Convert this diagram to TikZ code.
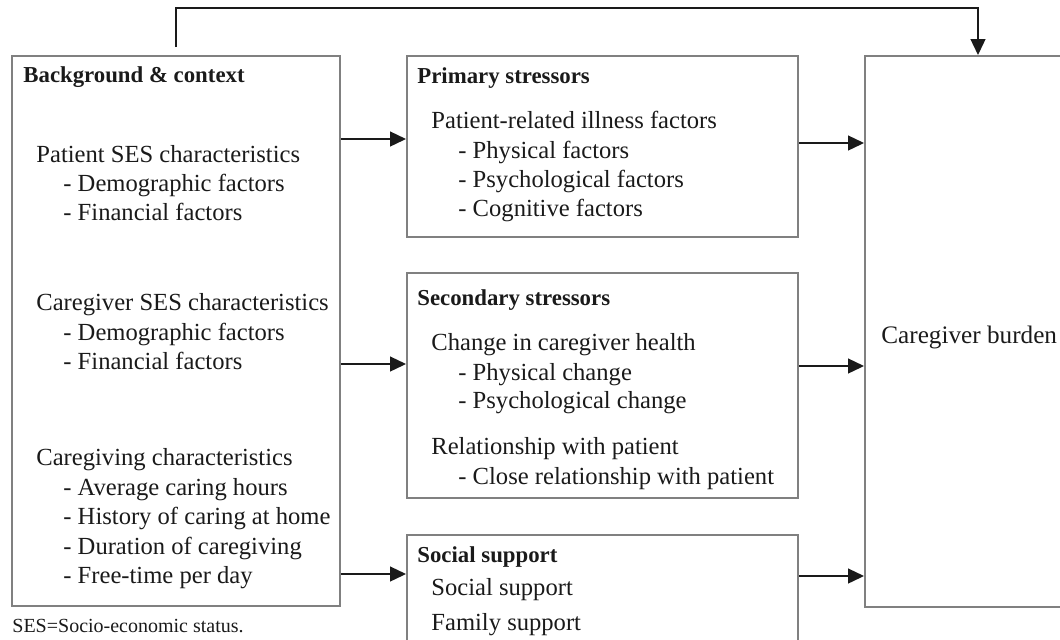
\documentclass[tikz,border=0pt]{standalone}
\usepackage{fontspec}
\setmainfont{Liberation Serif}
\usetikzlibrary{arrows.meta}
\definecolor{cbFrame}{HTML}{808080}
\definecolor{cbInk}{HTML}{1A1A1A}
\tikzset{
  cb diagram/.style={x=0.5pt, y=-0.5pt, text=cbInk,
    font=\fontsize{12.3}{14.5}\selectfont},
  cb box/.style={draw=cbFrame, line width=1pt, anchor=north west,
    inner sep=0pt},
  cb head/.style={anchor=base west, inner sep=0pt,
    font=\fontsize{11.4}{14.5}\selectfont\bfseries},
  cb line/.style={anchor=base west, inner sep=0pt},
  cb note/.style={anchor=base west, inner sep=0pt,
    font=\fontsize{10}{12}\selectfont},
  cb arrow/.style={-{Triangle[length=8pt,width=7.5pt]}, draw=cbInk,
    line width=0.65pt}
}

\begin{document}
\begin{tikzpicture}[cb diagram]
\clip (0,0) rectangle (1060,639);
% boxes
\node[cb box, minimum width=164pt, minimum height=275pt] (bg) at (11,55) {};
\node[cb box, minimum width=195.5pt, minimum height=90.5pt] (prim) at (406,55) {};
\node[cb box, minimum width=195.5pt, minimum height=112.5pt] (sec) at (406,272) {};
\node[cb box, minimum width=195.5pt, minimum height=63pt] (soc) at (406,534) {};
\node[cb box, minimum width=108pt, minimum height=275.5pt] (burden) at (864,55) {};
% background & context
\node[cb head] (bgHead) at (23,82) {Background \& context};
\foreach \y/\x/\t [count=\i] in {162/36/Patient SES characteristics,
    191/63/- Demographic factors, 220/63/- Financial factors,
    310/36/Caregiver SES characteristics, 340/63/- Demographic factors,
    369/63/- Financial factors, 465/36/Caregiving characteristics,
    495/63/- Average caring hours, 524/63/- History of caring at home,
    554/63/- Duration of caregiving, 583/63/- Free-time per day}
  \node[cb line] (bg\i) at (\x,\y) {\t};
\node[cb note] (sesNote) at (12,632) {SES=Socio-economic status.};
% stressors and support
\node[cb head] (primHead) at (417,83) {Primary stressors};
\foreach \y/\x/\t [count=\i] in {128/431/Patient-related illness factors,
    158/458/- Physical factors, 187/458/- Psychological factors,
    216/458/- Cognitive factors}
  \node[cb line] (prim\i) at (\x,\y) {\t};
\node[cb head] (secHead) at (417,305) {Secondary stressors};
\foreach \y/\x/\t [count=\i] in {350/431/Change in caregiver health,
    380/458/- Physical change, 408/458/- Psychological change,
    454/431/Relationship with patient,
    484/458/- Close relationship with patient}
  \node[cb line] (sec\i) at (\x,\y) {\t};
\node[cb head] (socHead) at (417,562) {Social support};
\node[cb line] (soc1) at (431,595) {Social support};
\node[cb line] (soc2) at (431,630) {Family support};
\node[cb line, font=\fontsize{12.6}{14.5}\selectfont] (burdenText) at (881,343) {Caregiver burden};
% connectors
\draw[cb arrow] (bg.east |- 0,139) -- (prim.west |- 0,139);
\draw[cb arrow] (bg.east |- 0,364) -- (sec.west |- 0,364);
\draw[cb arrow] (bg.east |- 0,574) -- (soc.west |- 0,574);
\draw[cb arrow] (prim.east |- 0,143) -- (burden.west |- 0,143);
\draw[cb arrow] (sec.east |- 0,366) -- (burden.west |- 0,366);
\draw[cb arrow] (soc.east |- 0,576) -- (burden.west |- 0,576);
\draw[cb arrow] ([yshift=4pt]bg.north) |- (978,8) -- (burden.north -| 978,0);
\end{tikzpicture}
\end{document}
